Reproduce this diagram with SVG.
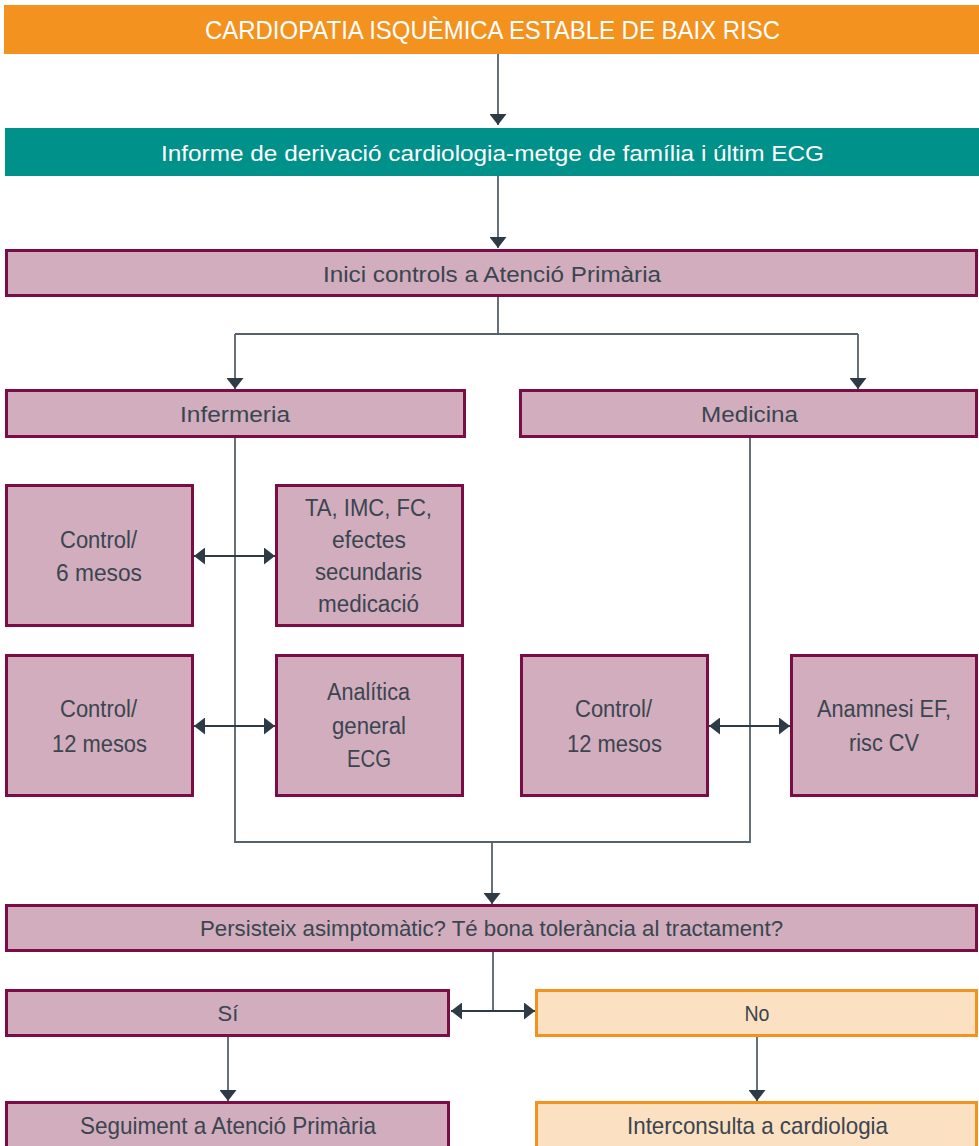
<svg xmlns="http://www.w3.org/2000/svg" width="979" height="1146" viewBox="0 0 979 1146">
<defs>
<marker id="ah" viewBox="0 0 11 17" refX="11" refY="8.5" markerWidth="11" markerHeight="17" markerUnits="userSpaceOnUse" orient="auto-start-reverse">
<path d="M0,0 L11,8.5 L0,17 Z" fill="#2D3B47"/>
</marker>
<style>
.p{fill:#D1ADBE;stroke:#7A0D45;stroke-width:3}
.o{fill:#FCE0C2;stroke:#F3921F;stroke-width:3}
.t{font-family:"Liberation Sans",Arial,sans-serif;font-size:22px;fill:#3A4550;text-anchor:middle;dominant-baseline:central}
.b{font-size:23px}
.w{fill:#FFFFFF}
.c{fill:none;stroke:#55616B;stroke-width:1.8}
.k{stroke:#2D3B47}
.a{marker-end:url(#ah)}
.d{marker-start:url(#ah);marker-end:url(#ah)}
</style>
</defs>
<rect width="979" height="1146" fill="#FFFFFF"/>
<g id="connectors">
<path class="c a" d="M498,54 V125"/>
<path class="c a" d="M498,176 V248"/>
<path class="c" d="M498,296 V334 M235,334 H858"/>
<path class="c a" d="M235,334 V389"/>
<path class="c a" d="M858,334 V389"/>
<path class="c" d="M235,437 V842 H750 V437"/>
<path class="c a" d="M492,842 V904"/>
<path class="c k d" d="M194,556 H275"/>
<path class="c k d" d="M194,726 H275"/>
<path class="c k d" d="M709,726 H790"/>
<path class="c" d="M493,951 V1011"/>
<path class="c k d" d="M451,1011 H535"/>
<path class="c a" d="M228,1036 V1101"/>
<path class="c a" d="M757,1036 V1101"/>
</g>
<g id="n-title">
<rect x="4" y="5" width="975" height="49" fill="#F3921F"/>
<text class="t w" x="492.5" y="30" style="font-size:25px" textLength="575" lengthAdjust="spacingAndGlyphs">CARDIOPATIA ISQUÈMICA ESTABLE DE BAIX RISC</text>
</g>
<g id="n-informe">
<rect x="5" y="128" width="974" height="48" fill="#00918A"/>
<text class="t w" x="492.5" y="153" textLength="663" lengthAdjust="spacingAndGlyphs">Informe de derivació cardiologia-metge de família i últim ECG</text>
</g>
<g id="n-inici">
<rect class="p" x="6.5" y="250.5" width="970" height="45"/>
<text class="t" x="492" y="274" textLength="338" lengthAdjust="spacingAndGlyphs">Inici controls a Atenció Primària</text>
</g>
<g id="n-infermeria">
<rect class="p" x="6.5" y="390.5" width="458" height="46"/>
<text class="t" x="235" y="414" textLength="110" lengthAdjust="spacingAndGlyphs">Infermeria</text>
</g>
<g id="n-medicina">
<rect class="p" x="520.5" y="390.5" width="456" height="46"/>
<text class="t" x="749.5" y="414" textLength="97" lengthAdjust="spacingAndGlyphs">Medicina</text>
</g>
<g id="n-control6">
<rect class="p" x="6.5" y="485.5" width="186" height="140"/>
<text class="t b" x="98.5" y="540" textLength="77" lengthAdjust="spacingAndGlyphs">Control/</text>
<text class="t b" x="99" y="573" textLength="86" lengthAdjust="spacingAndGlyphs">6 mesos</text>
</g>
<g id="n-ta">
<rect class="p" x="276.5" y="485.5" width="186" height="140"/>
<text class="t b" x="368.5" y="508" textLength="127" lengthAdjust="spacingAndGlyphs">TA, IMC, FC,</text>
<text class="t b" x="369" y="540" textLength="74" lengthAdjust="spacingAndGlyphs">efectes</text>
<text class="t b" x="368.5" y="572" textLength="107" lengthAdjust="spacingAndGlyphs">secundaris</text>
<text class="t b" x="368.5" y="604" textLength="101" lengthAdjust="spacingAndGlyphs">medicació</text>
</g>
<g id="n-control12a">
<rect class="p" x="6.5" y="655.5" width="186" height="140"/>
<text class="t b" x="98.5" y="709" textLength="77" lengthAdjust="spacingAndGlyphs">Control/</text>
<text class="t b" x="99.5" y="744" textLength="95" lengthAdjust="spacingAndGlyphs">12 mesos</text>
</g>
<g id="n-analitica">
<rect class="p" x="276.5" y="655.5" width="186" height="140"/>
<text class="t b" x="368.5" y="692" textLength="83" lengthAdjust="spacingAndGlyphs">Analítica</text>
<text class="t b" x="369" y="726" textLength="74" lengthAdjust="spacingAndGlyphs">general</text>
<text class="t b" x="369" y="759" textLength="44" lengthAdjust="spacingAndGlyphs">ECG</text>
</g>
<g id="n-control12b">
<rect class="p" x="521.5" y="655.5" width="186" height="140"/>
<text class="t b" x="613.5" y="709" textLength="77" lengthAdjust="spacingAndGlyphs">Control/</text>
<text class="t b" x="614.5" y="744" textLength="95" lengthAdjust="spacingAndGlyphs">12 mesos</text>
</g>
<g id="n-anamnesi">
<rect class="p" x="791.5" y="655.5" width="185" height="140"/>
<text class="t b" x="884" y="709" textLength="134" lengthAdjust="spacingAndGlyphs">Anamnesi EF,</text>
<text class="t b" x="884" y="743" textLength="70" lengthAdjust="spacingAndGlyphs">risc CV</text>
</g>
<g id="n-persisteix">
<rect class="p" x="6.5" y="905.5" width="970" height="45"/>
<text class="t" x="491.5" y="928" textLength="583" lengthAdjust="spacingAndGlyphs">Persisteix asimptomàtic? Té bona tolerància al tractament?</text>
</g>
<g id="n-si">
<rect class="p" x="6.5" y="990.5" width="442" height="45"/>
<text class="t" x="228" y="1013">Sí</text>
</g>
<g id="n-no">
<rect class="o" x="536.5" y="990.5" width="440" height="45"/>
<text class="t" x="757" y="1013" textLength="25" lengthAdjust="spacingAndGlyphs">No</text>
</g>
<g id="n-seguiment">
<rect class="p" x="6.5" y="1102.5" width="442" height="50"/>
<text class="t" x="228" y="1125" style="font-size:24px" textLength="296" lengthAdjust="spacingAndGlyphs">Seguiment a Atenció Primària</text>
</g>
<g id="n-interconsulta">
<rect class="o" x="536.5" y="1102.5" width="440" height="50"/>
<text class="t" x="757.5" y="1125" style="font-size:24px" textLength="261" lengthAdjust="spacingAndGlyphs">Interconsulta a cardiologia</text>
</g>
</svg>
